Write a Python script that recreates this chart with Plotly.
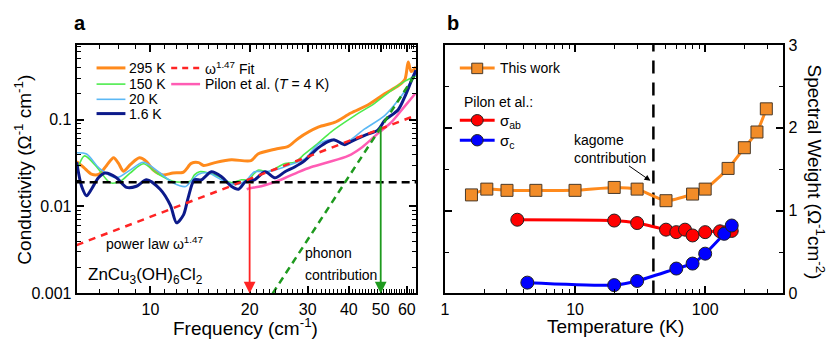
import math
import plotly.graph_objects as go

# ---------------- panel a: optical conductivity ----------------
freq_295 = [5.97, 6.27, 6.62, 6.99, 7.36, 7.73, 8.0, 8.28, 8.7, 9.26, 9.73, 10.2, 10.9, 11.7,
            12.6, 13.3, 14.0, 14.5, 15.7, 17.6, 20.2, 21.2, 23.9, 26.2, 28.1, 32.3, 36.2,
            40.6, 45.7, 51.4, 56.5, 59.2, 60.6, 61.9, 64.0]
sigma_295 = [0.0328, 0.0282, 0.0236, 0.0236, 0.0297, 0.0363, 0.0313, 0.0255, 0.0305, 0.0363,
             0.0328, 0.0262, 0.0231, 0.0243, 0.0249, 0.0313, 0.032, 0.0297, 0.032, 0.0345,
             0.0337, 0.0402, 0.0456, 0.0492, 0.0608, 0.0817, 0.0927, 0.119, 0.147, 0.198,
             0.245, 0.289, 0.46, 0.357, 0.405]

freq_150 = [5.97, 6.31, 6.87, 7.55, 8.1, 8.67, 9.52, 10.45, 11.7, 13.2, 13.6, 14.1, 15.0, 16.1,
            17.6, 18.9, 19.8, 21.2, 22.8, 24.4, 25.6, 27.4, 29.4, 32.3, 35.3, 41.7, 47.9,
            53.8, 59.2, 64.0]
sigma_150 = [0.0251, 0.0382, 0.0285, 0.0187, 0.0195, 0.0242, 0.031, 0.0242, 0.0195, 0.0195,
             0.0231, 0.0251, 0.0243, 0.0221, 0.0188, 0.0203, 0.0203, 0.0262, 0.0251, 0.0285,
             0.0313, 0.0323, 0.0402, 0.0536, 0.0719, 0.111, 0.154, 0.216, 0.277, 0.32]

freq_20 = [5.97, 6.4, 7.0, 7.89, 8.67, 9.52, 10.7, 11.7, 12.8, 13.2, 14.0, 15.0, 16.4, 18.0,
           19.4, 20.7, 22.3, 23.9, 26.2, 29.4, 32.3, 35.3, 38.9, 44.7, 51.4, 57.6, 61.9, 64.0]
sigma_20 = [0.0416, 0.0402, 0.0275, 0.0214, 0.0262, 0.0323, 0.0243, 0.0188, 0.017, 0.019,
            0.0235, 0.0243, 0.0203, 0.0179, 0.0195, 0.0251, 0.0251, 0.0262, 0.0297, 0.0354,
            0.0518, 0.0588, 0.0536, 0.0782, 0.111, 0.184, 0.277, 0.34]

freq_1p6 = [5.97, 6.18, 6.4, 6.62, 6.95, 7.29, 7.89, 8.46, 9.07, 9.73, 10.7, 11.5, 12.0, 12.6,
            13.0, 13.6, 14.3, 15.3, 16.4, 17.6, 18.5, 19.5, 20.7, 22.3, 23.9, 25.6, 27.4,
            29.4, 30.1, 32.3, 34.6, 36.2, 38.9, 40.6, 44.7, 49.0, 51.4, 56.5, 59.2, 61.9, 64.0]
sigma_1p6 = [0.0323, 0.0171, 0.0133, 0.0158, 0.0214, 0.0243, 0.0214, 0.0166, 0.0171, 0.0203,
             0.0158, 0.0103, 0.0065, 0.008, 0.0124, 0.0203, 0.0203, 0.0251, 0.0221, 0.0171,
             0.0158, 0.0195, 0.0203, 0.0251, 0.0214, 0.0251, 0.0285, 0.0337, 0.0366, 0.0472,
             0.0559, 0.0584, 0.0515, 0.0559, 0.066, 0.0757, 0.0975, 0.13, 0.184, 0.277, 0.37]

freq_pilon = [19.6, 20.0, 21.7, 24.9, 28.1, 30.8, 34.6, 39.8, 43.6, 46.7, 49.6, 53.8, 59.2, 63.6]
sigma_pilon = [0.0158, 0.0162, 0.0171, 0.0203, 0.0249, 0.0285, 0.0323, 0.0382, 0.0472,
               0.0588, 0.0719, 0.0927, 0.143, 0.198]

fit_freq = [5.97, 64.0]
fit_sigma = [0.0036, 0.112]
phonon_freq = [23.5, 64.0]
phonon_sigma = [0.001, 0.34]
plateau_freq = [5.97, 64.0]
plateau_sigma = [0.019, 0.019]

kagome_edge = (20, 0.019)     # red arrow: start of kagome contribution
phonon_edge = (50, 0.082)     # green arrow: onset of phonon contribution

# ---------------- panel b: spectral weight ----------------
this_work_T = [1.6, 2.1, 3, 5, 10, 20, 30, 50, 80, 100, 150, 200, 250, 295]
this_work_sw = [1.19, 1.26, 1.245, 1.245, 1.245, 1.28, 1.26, 1.12, 1.2, 1.26, 1.51, 1.76, 1.95, 2.23]
pilon_ab_T = [3.6, 20, 30, 50, 60, 70, 80, 100, 130, 145, 160]
pilon_ab_sw = [0.89, 0.88, 0.85, 0.77, 0.74, 0.77, 0.70, 0.74, 0.75, 0.74, 0.755]
pilon_c_T = [4.3, 20, 30, 60, 80, 100, 140, 160]
pilon_c_sw = [0.13, 0.10, 0.15, 0.30, 0.36, 0.48, 0.72, 0.82]
kagome_T = 40

FONT = "Liberation Sans, Arial, sans-serif"
W, H = 839, 349

ORANGE = "#FF8A1C"
GREEN = "#4DEB4D"
LBLUE = "#5BB8F5"
NAVY = "#0C1A8A"
PINK = "#FF5CB4"
RED = "#FF2424"
DGREEN = "#1E9A1E"


def px(x):
    return x / W


def py(y):
    return 1 - y / H


fig = go.Figure()

# panel a curves
for f, s, c, w in [(freq_295, sigma_295, ORANGE, 3),
                   (freq_150, sigma_150, GREEN, 1.6),
                   (freq_20, sigma_20, LBLUE, 1.6),
                   (freq_pilon, sigma_pilon, PINK, 2.5),
                   (freq_1p6, sigma_1p6, NAVY, 3)]:
    fig.add_trace(go.Scatter(x=f, y=s, mode="lines", xaxis="x", yaxis="y",
                             line=dict(color=c, width=w, shape="spline", smoothing=0.8),
                             hoverinfo="skip"))

fig.add_trace(go.Scatter(x=plateau_freq, y=plateau_sigma, mode="lines", xaxis="x", yaxis="y",
                         line=dict(color="black", width=2.5, dash="8px,5px")))
fig.add_trace(go.Scatter(x=fit_freq, y=fit_sigma, mode="lines", xaxis="x", yaxis="y",
                         line=dict(color=RED, width=2.5, dash="7px,6px")))
fig.add_trace(go.Scatter(x=phonon_freq, y=phonon_sigma, mode="lines", xaxis="x", yaxis="y",
                         line=dict(color=DGREEN, width=2.5, dash="7px,5px")))

# panel b curves
fig.add_trace(go.Scatter(x=[kagome_T, kagome_T], y=[0, 3], mode="lines", xaxis="x2", yaxis="y2",
                         line=dict(color="black", width=2.5, dash="13px,9px")))
fig.add_trace(go.Scatter(x=this_work_T, y=this_work_sw, mode="lines+markers", xaxis="x2", yaxis="y2",
                         line=dict(color=ORANGE, width=3, shape="spline", smoothing=0.6),
                         marker=dict(symbol="square", size=12, color="#F28C28",
                                     line=dict(color="#4A3A2A", width=1))))
fig.add_trace(go.Scatter(x=pilon_ab_T, y=pilon_ab_sw, mode="lines+markers", xaxis="x2", yaxis="y2",
                         line=dict(color="#FF0000", width=3, shape="spline", smoothing=0.6),
                         marker=dict(symbol="circle", size=13, color="#FF0000",
                                     line=dict(color="#222222", width=1))))
fig.add_trace(go.Scatter(x=pilon_c_T, y=pilon_c_sw, mode="lines+markers", xaxis="x2", yaxis="y2",
                         line=dict(color="#0000FF", width=3, shape="spline", smoothing=0.6),
                         marker=dict(symbol="circle", size=13, color="#0000FF",
                                     line=dict(color="#222222", width=1))))

axis_common = dict(showgrid=False, zeroline=False, showline=True, linecolor="black", linewidth=2,
                   ticks="inside", tickcolor="black", tickwidth=1.5, ticklen=7, mirror="ticks",
                   tickfont=dict(family=FONT, size=16, color="black"))

ydom = [py(300), py(39)]
a_minor_x = [v for v in range(6, 65) if v % 10 != 0]
a_minor_y = [k * 10 ** n for n in (-3, -2, -1) for k in range(2, 10) if k * 10 ** n < 0.72]
b_minor_x = [k * 10 ** n for n in (0, 1, 2) for k in range(2, 10) if k * 10 ** n < 398]

fig.update_layout(
    width=W, height=H, margin=dict(l=0, r=0, t=0, b=0),
    paper_bgcolor="white", plot_bgcolor="white", showlegend=False,
    font=dict(family=FONT, color="black"),
    xaxis=dict(domain=[px(73), px(414)], anchor="y", type="log",
               range=[math.log10(5.97), math.log10(64.0)],
               tickvals=[10, 20, 30, 40, 50, 60], ticktext=["10", "20", "30", "40", "50", "60"],
               minor=dict(tickvals=a_minor_x, ticks="inside", ticklen=4, tickwidth=1.2,
                          tickcolor="black", showgrid=False),
               **axis_common),
    yaxis=dict(domain=ydom, anchor="x", type="log", range=[-3, math.log10(0.72)],
               tickvals=[0.001, 0.01, 0.1], ticktext=["0.001", "0.01", "0.1"],
               minor=dict(tickvals=a_minor_y, ticks="inside", ticklen=4, tickwidth=1.2,
                          tickcolor="black", showgrid=False),
               **axis_common),
    xaxis2=dict(domain=[px(443), px(783)], anchor="y2", type="log", range=[0, 2.6],
                tickvals=[1, 10, 100], ticktext=["1", "10", "100"],
                minor=dict(tickvals=b_minor_x, ticks="inside", ticklen=4, tickwidth=1.2,
                           tickcolor="black", showgrid=False),
                **axis_common),
    yaxis2=dict(domain=ydom, anchor="x2", side="right", range=[0, 3],
                tickvals=[0, 1, 2, 3],
                minor=dict(dtick=0.5, ticks="inside", ticklen=4, tickwidth=1.2,
                           tickcolor="black", showgrid=False),
                **axis_common),
)

ann = []


def text(x, y, s, size=14, xanchor="left", angle=0, bold=False, align="left"):
    ann.append(dict(x=px(x), y=py(y), xref="paper", yref="paper", text=f"<b>{s}</b>" if bold else s,
                    showarrow=False, xanchor=xanchor, yanchor="middle", textangle=angle,
                    align=align, font=dict(family=FONT, size=size, color="black")))


# panel labels and axis titles
text(76, 16, "a", size=20, xanchor="center", bold=True)
text(451, 16, "b", size=20, xanchor="center", bold=True)
text(19, 170, "Conductivity (Ω<sup>-1</sup> cm<sup>-1</sup>)", size=19, xanchor="center", angle=-90)
text(243, 335, "Frequency (cm<sup>-1</sup>)", size=19, xanchor="center")
text(614, 335, "Temperature (K)", size=19, xanchor="center")
text(816, 172, "Spectral Weight (Ω<sup>-1</sup>cm<sup>-2</sup>)", size=19, xanchor="center", angle=90)

# panel a notes
text(100, 247, "power law ω<sup>1.47</sup>", size=14)
text(82, 282, "ZnCu<sub>3</sub>(OH)<sub>6</sub>Cl<sub>2</sub>", size=17)
text(300, 258, "phonon", size=14)
text(300, 281, "contribution", size=14)

# panel a legend
shapes = []


def seg(x0, x1, y, color, width, dash="solid"):
    shapes.append(dict(type="line", xref="paper", yref="paper", x0=px(x0), x1=px(x1),
                       y0=py(y), y1=py(y), line=dict(color=color, width=width, dash=dash)))


for y, label, c, w in [(63, "295 K", ORANGE, 3), (80, "150 K", GREEN, 1.6),
                       (96, "20 K", LBLUE, 1.6), (111, "1.6 K", NAVY, 3)]:
    seg(93, 122, y, c, w)
    text(124, y, label, size=14)
seg(168, 197, 63, RED, 2.5, "6px,5px")
text(200, 63, "ω<sup>1.47</sup> Fit", size=14)
seg(168, 197, 80, PINK, 2.5)
text(200, 80, "Pilon et al. (<i>T</i> = 4 K)", size=14)

# panel b legend
seg(458, 493, 63, ORANGE, 3)
shapes.append(dict(type="rect", xref="paper", yref="paper", x0=px(470), x1=px(481),
                   y0=py(69), y1=py(58), fillcolor="#F28C28", line=dict(color="#4A3A2A", width=1)))
text(496, 63, "This work", size=14)
text(460, 99, "Pilon et al.:", size=14)
for y, label, c in [(118, "σ<sub>ab</sub>", "#FF0000"), (139, "σ<sub>c</sub>", "#0000FF")]:
    seg(458, 493, y, c, 3)
    shapes.append(dict(type="circle", xref="paper", yref="paper", x0=px(469.5), x1=px(481.5),
                       y0=py(y + 6), y1=py(y - 6), fillcolor=c, line=dict(color="#222222", width=1)))
    text(496, y + 1, label, size=15)

text(571, 148, "kagome<br>contribution", size=14)

# arrows
ann.append(dict(x=math.log10(kagome_edge[0]), y=-3, xref="x", yref="y",
                ax=math.log10(kagome_edge[0]), ay=math.log10(kagome_edge[1]), axref="x", ayref="y",
                text="", showarrow=True, arrowhead=2, arrowsize=1.3, arrowwidth=1.8, arrowcolor=RED))
ann.append(dict(x=math.log10(phonon_edge[0]), y=-3, xref="x", yref="y",
                ax=math.log10(phonon_edge[0]), ay=math.log10(phonon_edge[1]), axref="x", ayref="y",
                text="", showarrow=True, arrowhead=2, arrowsize=1.3, arrowwidth=1.8, arrowcolor=DGREEN))
ann.append(dict(x=math.log10(38), y=1.36, xref="x2", yref="y2", ax=-23, ay=-16,
                text="", showarrow=True, arrowhead=2, arrowsize=1.2, arrowwidth=1, arrowcolor="black"))

fig.update_layout(annotations=ann, shapes=shapes)
fig.write_html("out.html")
